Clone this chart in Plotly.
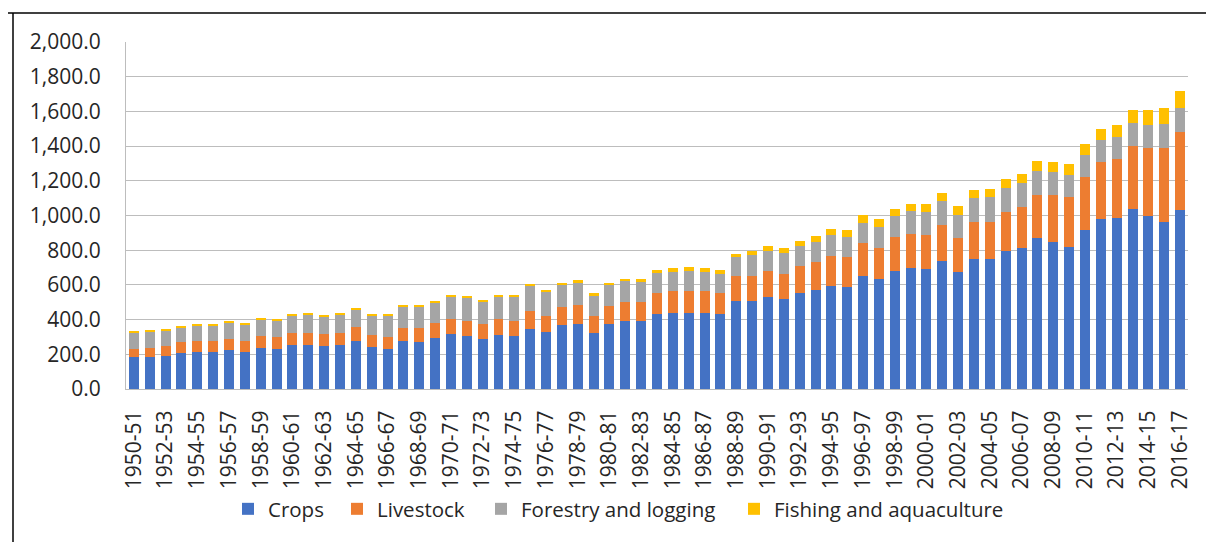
import plotly.graph_objects as go

categories = [
    "1950-51", "1951-52", "1952-53", "1953-54", "1954-55", "1955-56", "1956-57", "1957-58",
    "1958-59", "1959-60", "1960-61", "1961-62", "1962-63", "1963-64", "1964-65", "1965-66",
    "1966-67", "1967-68", "1968-69", "1969-70", "1970-71", "1971-72", "1972-73", "1973-74",
    "1974-75", "1975-76", "1976-77", "1977-78", "1978-79", "1979-80", "1980-81", "1981-82",
    "1982-83", "1983-84", "1984-85", "1985-86", "1986-87", "1987-88", "1988-89", "1989-90",
    "1990-91", "1991-92", "1992-93", "1993-94", "1994-95", "1995-96", "1996-97", "1997-98",
    "1998-99", "1999-00", "2000-01", "2001-02", "2002-03", "2003-04", "2004-05", "2005-06",
    "2006-07", "2007-08", "2008-09", "2009-10", "2010-11", "2011-12", "2012-13", "2013-14",
    "2014-15", "2015-16", "2016-17",
]

crops = [
    184, 185, 193, 208, 216, 212, 226, 214, 239, 233, 254, 253, 247, 253, 279, 241,
    233, 277, 273, 295, 316, 306, 289, 314, 306, 348, 327, 371, 377, 325, 373, 394,
    394, 433, 440, 440, 438, 431, 506, 508, 529, 517, 552, 569, 596, 590, 653, 634,
    680, 696, 692, 736, 676, 749, 749, 795, 813, 870, 849, 820, 916, 981, 983, 1037,
    998, 964, 1031,
]
livestock = [
    49, 54, 57, 65, 63, 64, 65, 63, 69, 69, 71, 72, 72, 70, 81, 69,
    67, 77, 79, 86, 90, 88, 86, 90, 88, 102, 96, 104, 108, 96, 108, 110,
    110, 122, 127, 127, 127, 124, 144, 143, 149, 148, 157, 165, 172, 171, 187, 180,
    194, 200, 197, 211, 194, 215, 215, 227, 237, 249, 269, 286, 305, 328, 344, 364,
    392, 426, 453,
]
forestry = [
    92, 90, 87, 83, 89, 90, 92, 92, 90, 90, 98, 102, 98, 108, 100, 115,
    123, 119, 121, 117, 126, 133, 129, 127, 137, 144, 136, 123, 128, 117, 117, 119,
    115, 115, 109, 111, 109, 110, 109, 120, 119, 119, 117, 115, 118, 117, 118, 121,
    125, 130, 131, 136, 134, 138, 140, 138, 137, 137, 132, 127, 125, 127, 126, 133,
    132, 136, 136,
]
fishing = [
    6, 6, 4, 6, 5, 5, 4, 6, 6, 8, 6, 6, 6, 6, 7, 10,
    10, 12, 12, 11, 12, 11, 11, 12, 12, 13, 14, 13, 14, 14, 13, 13,
    15, 18, 20, 23, 22, 21, 21, 26, 27, 27, 29, 33, 36, 36, 43, 43,
    38, 40, 44, 46, 50, 46, 46, 50, 55, 57, 58, 63, 65, 65, 69, 74,
    85, 91, 98,
]

series_names = ["Crops", "Livestock", "Forestry and logging", "Fishing and aquaculture"]
series_values = [crops, livestock, forestry, fishing]
series_colors = ["#4472C4", "#ED7D31", "#A5A5A5", "#FFC000"]

FONT = "Open Sans"
TXT = "#262626"

# page body has an 8px margin; figure is sized so that it ends at the window edge
OFF = 8
W, H = 1214 - OFF, 542 - OFF
L, R, T, B = 118, 26, 34, 153
pw, ph = W - L - R, H - T - B


def px(x):
    return (x - L) / pw


def py(y):
    return (H - B - y) / ph


legend_left = [220, 329, 473, 726]
legend_keys = ["legend", "legend2", "legend3", "legend4"]

fig = go.Figure()
for name, vals, col, lk in zip(series_names, series_values, series_colors, legend_keys):
    fig.add_trace(go.Bar(x=categories, y=vals, name=name, marker_color=col,
                         marker_line_width=0, legend=lk, showlegend=True))

legend_cfg = {}
for lk, lx in zip(legend_keys, legend_left):
    legend_cfg[lk] = dict(orientation="h", x=px(lx), xanchor="left", y=py(501), yanchor="middle",
                          font=dict(family=FONT, size=20.5, color=TXT), visible=True,
                          bgcolor="rgba(0,0,0,0)", borderwidth=0)

fig.update_layout(
    width=W, height=H,
    showlegend=True,
    margin=dict(l=L, r=R, t=T, b=B, autoexpand=False),
    barmode="stack",
    bargap=0.37,
    plot_bgcolor="white",
    paper_bgcolor="white",
    font=dict(family=FONT, color=TXT, size=21),
    xaxis=dict(
        type="category", automargin=False,
        tickmode="array", tickvals=categories[::2], tickangle=-90,
        showgrid=False, showline=True, linecolor="#bdbdbd", linewidth=1,
        ticks="", ticklabelstandoff=12, tickfont=dict(size=21, family=FONT, color=TXT),
    ),
    yaxis=dict(
        automargin=False,
        range=[0, 2000], dtick=200, tickformat=",.1f",
        showgrid=True, gridcolor="#bdbdbd", gridwidth=1,
        showline=True, linecolor="#bdbdbd", linewidth=1,
        zeroline=False, ticks="", ticklabelstandoff=20,
        tickfont=dict(size=21, family=FONT, color=TXT),
    ),
    shapes=[
        dict(type="line", xref="paper", yref="paper", x0=px(0), x1=px(W), y0=py(5), y1=py(5),
             line=dict(color="black", width=1.5)),
        dict(type="line", xref="paper", yref="paper", x0=px(5), x1=px(5), y0=py(5), y1=py(H),
             line=dict(color="black", width=1.5)),
    ],
    **legend_cfg,
)

fig.write_html("out.html")
